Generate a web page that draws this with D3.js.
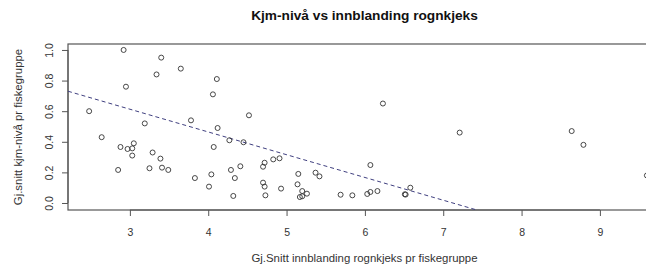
<!DOCTYPE html>
<html><head><meta charset="utf-8">
<script src="https://cdn.jsdelivr.net/npm/d3@7"></script>
<style>body{margin:0;background:#fff;overflow:hidden}svg{display:block}</style>
</head><body>
<script>
const title = "Kjm-nivå vs innblanding rognkjeks";
const xTitle = "Gj.Snitt innblanding rognkjeks pr fiskegruppe";
const yTitle = "Gj.snitt kjm-nivå pr fiskegruppe";
const xTicks = [3,4,5,6,7,8,9];
const yTicks = [0.0,0.2,0.4,0.6,0.8,1.0];
const xVals = [2.92,3.40,3.34,2.95,2.48,3.19,2.64,3.05,2.88,2.97,3.03,3.03,3.29,3.39,2.85,3.25,3.41,3.49,
  3.65,4.11,4.06,3.78,4.52,4.12,4.27,4.45,4.07,4.41,4.29,3.83,4.04,4.34,4.01,4.32,
  4.72,4.70,4.83,4.91,4.70,4.72,4.73,4.93,5.15,5.14,5.37,5.42,5.20,5.26,5.17,5.20,5.69,5.84,
  6.23,6.07,6.03,6.07,6.16,6.51,6.52,6.58,7.21,8.64,8.79,9.60];
const yVals = [1.00,0.95,0.84,0.76,0.60,0.52,0.43,0.39,0.366,0.353,0.357,0.31,0.33,0.29,0.216,0.227,0.231,0.216,
  0.878,0.81,0.71,0.54,0.573,0.49,0.41,0.397,0.366,0.24,0.216,0.163,0.187,0.163,0.107,0.046,
  0.263,0.237,0.285,0.292,0.133,0.107,0.05,0.094,0.19,0.122,0.198,0.174,0.078,0.061,0.039,0.044,0.054,0.05,
  0.65,0.248,0.059,0.072,0.078,0.057,0.055,0.10,0.46,0.47,0.38,0.18];
const fit = [1.059, -0.1487]; // intercept, slope

const W = 646, H = 266;
const L = 68, R = 661, T = 44, B = 210;
const svg = d3.select("body").append("svg").attr("width", W).attr("height", H);
const x = d3.scaleLinear().domain([2.21, 9.78]).range([L, R]);
const y = d3.scaleLinear().domain([-0.0458, 1.039]).range([B, T]);
const font = "'Liberation Sans', Arial, sans-serif";
const ink = "#333";

svg.append("defs").append("clipPath").attr("id","clip")
  .append("rect").attr("x",L).attr("y",T).attr("width",R-L).attr("height",B-T);

// box
svg.append("rect").attr("x",L).attr("y",T).attr("width",R-L).attr("height",B-T)
  .attr("fill","none").attr("stroke","#555").attr("stroke-width",1.2);

// x axis
const xa = svg.append("g").attr("transform",`translate(0,${B})`)
  .call(d3.axisBottom(x).tickValues(xTicks).tickSize(6).tickPadding(12.5).tickFormat(d3.format("d")));
xa.select(".domain").attr("d", `M${x(3)},0H${x(9)}`).attr("stroke","#555");
xa.selectAll(".tick line").attr("stroke","#555");
xa.selectAll("text").attr("font-family",font).attr("font-size",10.5).attr("fill",ink);

// y axis
const ya = svg.append("g").attr("transform",`translate(${L},0)`)
  .call(d3.axisLeft(y).tickValues(yTicks).tickSize(6).tickFormat(d3.format(".1f")));
ya.select(".domain").attr("d", `M0,${y(0)}V${y(1)}`).attr("stroke","#555");
ya.selectAll(".tick line").attr("stroke","#555");
ya.selectAll("text").attr("font-family",font).attr("font-size",10.5).attr("fill",ink)
  .attr("text-anchor","middle").attr("x",0).attr("dy",0)
  .attr("transform","translate(-15.3,0) rotate(-90)");

// regression line
svg.append("line").attr("clip-path","url(#clip)")
  .attr("x1", x(2.21)).attr("y1", y(fit[0] + fit[1]*2.21))
  .attr("x2", x(9.78)).attr("y2", y(fit[0] + fit[1]*9.78))
  .attr("stroke","#404080").attr("stroke-width",1).attr("stroke-dasharray","4,3");

// points
svg.append("g").selectAll("circle").data(xVals.map((v,i)=>[v,yVals[i]])).join("circle")
  .attr("cx", d=>x(d[0])).attr("cy", d=>y(d[1])).attr("r",2.5)
  .attr("fill","none").attr("stroke","#333").attr("stroke-width",0.9);

// titles
svg.append("text").attr("x",(L+R)/2).attr("y",20).attr("text-anchor","middle")
  .attr("font-family",font).attr("font-weight","bold").attr("font-size",13.7).attr("fill","#111").text(title);
svg.append("text").attr("x",(L+R)/2).attr("y",262).attr("text-anchor","middle")
  .attr("font-family",font).attr("font-size",11.4).attr("fill",ink).text(xTitle);
svg.append("text").attr("transform",`translate(22,${(T+B)/2}) rotate(-90)`).attr("text-anchor","middle")
  .attr("font-family",font).attr("font-size",11.4).attr("fill",ink).text(yTitle);
</script>
</body></html>
